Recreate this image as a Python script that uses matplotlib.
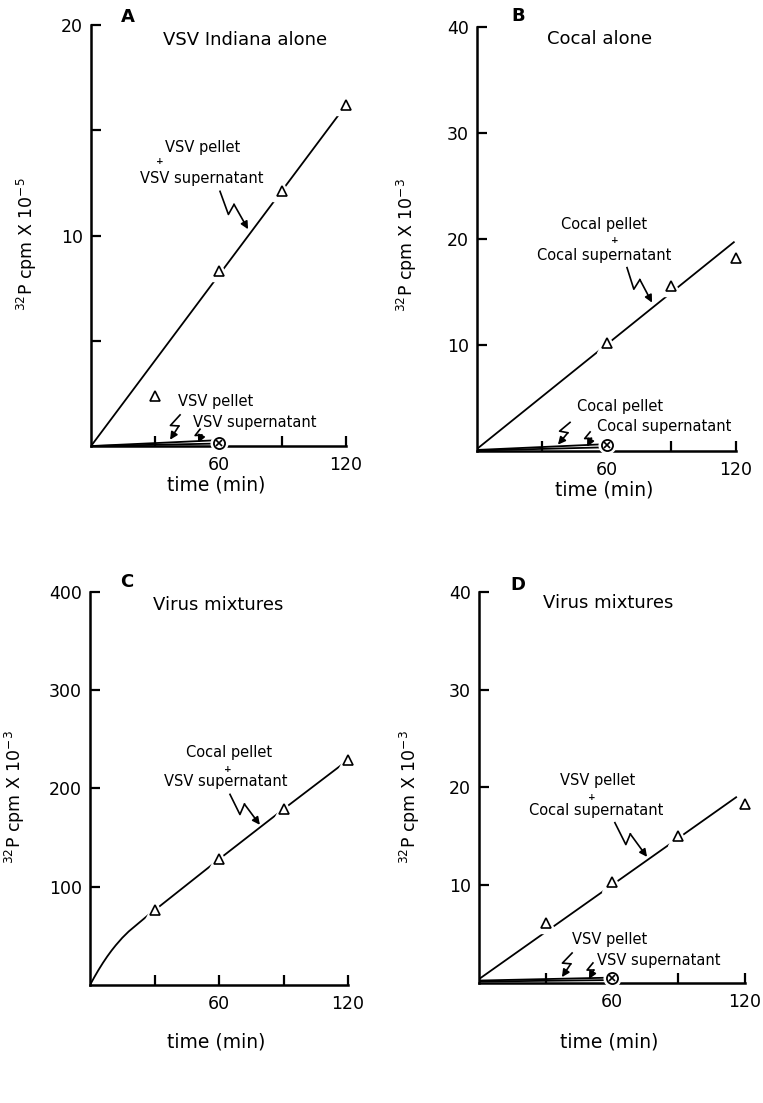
import numpy as np
import matplotlib.pyplot as plt

plt.rcParams["font.family"] = "DejaVu Sans"
plt.rcParams["mathtext.fontset"] = "dejavusans"

# sampling times (min)
t_tri = [30, 60, 90, 120]
t_b = [60, 90, 120]
t_zero = [0, 60]

# A: VSV Indiana alone (cpm x 10^-5)
a_tri = [2.4, 8.3, 12.1, 16.2]
a_fit_t = [0, 120]
a_fit = [0.0, 16.2]
a_pellet = [0.0, 0.28]
a_super = [0.0, 0.12]
a_cross = 0.15

# B: Cocal alone (cpm x 10^-3)
b_tri = [10.2, 15.6, 18.2]
b_fit_t = [0, 119]
b_fit = [0.2, 19.7]
b_pellet = [0.1, 0.65]
b_super = [0.05, 0.35]
b_cross = 0.55

# C: Cocal pellet + VSV supernatant (cpm x 10^-3)
c_tri = [76, 128, 179, 229]
c_curve_t = [0, 2, 4, 6, 8, 10, 12, 15, 18, 21, 24, 27, 30, 60, 90, 120]
c_curve = [0, 8, 15.5, 22.5, 29, 35, 40.5, 48, 54.5, 60, 65.5, 71, 76,
           128, 179, 229]

# D: VSV pellet + Cocal supernatant (cpm x 10^-3)
d_tri = [6.1, 10.3, 15.0, 18.3]
d_fit_t = [0, 116]
d_fit = [0.4, 19.0]
d_pellet = [0.25, 0.55]
d_super = [0.15, 0.3]
d_cross = 0.5

LW = 1.3
TEXT_SIZE = 10.5


def configure_axes(ax, ymax, yticks, ylabels, ylabel, lbl_x, lbl_y, time_y):
    """Bare left/bottom axes with inward ticks"""
    for spine in ["top", "right"]:
        ax.spines[spine].set_visible(False)
    for spine in ["left", "bottom"]:
        ax.spines[spine].set_linewidth(1.8)
    ax.set_xlim(0, 120)
    ax.set_ylim(0, ymax)
    ax.set_xticks([30, 60, 90, 120])
    ax.set_xticklabels(["", "60", "", "120"])
    ax.set_yticks(yticks)
    ax.set_yticklabels(ylabels)
    ax.tick_params(axis="both", direction="in", length=7, width=1.6,
                   labelsize=12.5)
    ax.tick_params(axis="x", pad=7)
    ax.tick_params(axis="y", pad=6)
    ax.text(lbl_x, lbl_y, ylabel, transform=ax.transAxes, rotation=90,
            ha="center", va="center", fontsize=12.5)
    ax.text(0.49, time_y, "time (min)", transform=ax.transAxes,
            ha="center", va="center", fontsize=13.5)


def gapped_points(ax, t, vals):
    """Open triangles that break the line through them"""
    ax.plot(t, vals, linestyle="none", marker="^", ms=14, mfc="white",
            mec="white", zorder=3, clip_on=False)
    ax.plot(t, vals, linestyle="none", marker="^", ms=7.5, mfc="white",
            mec="black", mew=1.2, zorder=4, clip_on=False)


def cross_point(ax, t, val):
    ax.plot([t], [val], linestyle="none", marker="o", ms=12, mfc="white",
            mec="white", zorder=3, clip_on=False)
    ax.plot([t], [val], linestyle="none", marker="o", ms=8, mfc="white",
            mec="black", mew=1.3, zorder=4, clip_on=False)
    ax.plot([t], [val], linestyle="none", marker="x", ms=5, mec="black",
            mew=1.2, zorder=5, clip_on=False)


def squiggle(ax, start, end, k1=7.0, k2=3.5):
    """Lightning-bolt style pointer ending in an arrowhead"""
    tr = ax.transData
    p0 = tr.transform(start)
    p3 = tr.transform(end)
    v = p3 - p0
    n = np.array([-v[1], v[0]]) / np.hypot(*v)
    p1 = p0 + 0.5 * v - k1 * n
    p2 = p0 + 0.4 * v + k2 * n
    pts = tr.inverted().transform(np.array([p0, p1, p2]))
    ax.plot(pts[:, 0], pts[:, 1], color="black", lw=1.2, clip_on=False,
            zorder=5)
    ax.annotate("", xy=end, xytext=tuple(pts[2]),
                arrowprops=dict(arrowstyle="-|>", color="black", lw=1.2,
                                mutation_scale=11, shrinkA=0, shrinkB=0))


def stacked_label(ax, top, bottom, x_top, y_top, plus, x_bot, y_bot):
    ax.text(x_top, y_top, top, ha="center", va="center", fontsize=TEXT_SIZE)
    ax.text(plus[0], plus[1], "+", ha="center", va="center", fontsize=6.5,
            fontweight="bold")
    ax.text(x_bot, y_bot, bottom, ha="center", va="center", fontsize=TEXT_SIZE)


fig = plt.figure(figsize=(7.63, 11.03), dpi=100)
ax_a = fig.add_axes([0.1193, 0.5956, 0.3342, 0.3817])
ax_b = fig.add_axes([0.6252, 0.5911, 0.3394, 0.3844])
ax_c = fig.add_axes([0.1180, 0.1070, 0.3381, 0.3563])
ax_d = fig.add_axes([0.6278, 0.1088, 0.3486, 0.3545])

# ---- A ----
configure_axes(ax_a, 20, [5, 10, 15, 20], ["", "10", "", "20"],
               r"$^{32}$P cpm X 10$^{-5}$", -0.25, 0.48, -0.093)
ax_a.plot(a_fit_t, a_fit, color="black", lw=LW, zorder=2)
gapped_points(ax_a, t_tri, a_tri)
ax_a.plot(t_zero, a_pellet, color="black", lw=LW, zorder=2)
ax_a.plot(t_zero, a_super, color="black", lw=LW, zorder=2)
cross_point(ax_a, 60, a_cross)
ax_a.text(17.4, 20.4, "A", ha="center", va="center", fontsize=13,
          fontweight="bold")
ax_a.text(33.9, 19.3, "VSV Indiana alone", ha="left", va="center",
          fontsize=13)
stacked_label(ax_a, "VSV pellet", "VSV supernatant", 52.7, 14.2,
              (32.5, 13.5), 52.2, 12.7)
squiggle(ax_a, (60.7, 12.1), (73.9, 10.3))
ax_a.text(40.9, 2.1, "VSV pellet", ha="left", va="center", fontsize=TEXT_SIZE)
ax_a.text(48.0, 1.1, "VSV supernatant", ha="left", va="center",
          fontsize=TEXT_SIZE)
squiggle(ax_a, (41.9, 1.48), (37.2, 0.3), k1=5, k2=3)
squiggle(ax_a, (51.3, 0.8), (50.4, 0.15), k1=4, k2=2.5)

# ---- B ----
configure_axes(ax_b, 40, [10, 20, 30, 40], ["10", "20", "30", "40"],
               r"$^{32}$P cpm X 10$^{-3}$", -0.27, 0.486, -0.092)
ax_b.plot(b_fit_t, b_fit, color="black", lw=LW, zorder=2)
gapped_points(ax_b, t_b, b_tri)
ax_b.plot(t_zero, b_pellet, color="black", lw=LW, zorder=2)
ax_b.plot(t_zero, b_super, color="black", lw=LW, zorder=2)
cross_point(ax_b, 60, b_cross)
ax_b.text(19.0, 41.0, "B", ha="center", va="center", fontsize=13,
          fontweight="bold")
ax_b.text(32.4, 38.9, "Cocal alone", ha="left", va="center", fontsize=13)
stacked_label(ax_b, "Cocal pellet", "Cocal supernatant", 58.8, 21.4,
              (64.0, 19.9), 58.8, 18.4)
squiggle(ax_b, (69.5, 17.3), (81.1, 14.0))
ax_b.text(46.3, 4.2, "Cocal pellet", ha="left", va="center",
          fontsize=TEXT_SIZE)
ax_b.text(55.6, 2.3, "Cocal supernatant", ha="left", va="center",
          fontsize=TEXT_SIZE)
squiggle(ax_b, (43.1, 2.7), (37.5, 0.6), k1=5, k2=3)
squiggle(ax_b, (52.4, 1.8), (51.0, 0.4), k1=4, k2=2.5)

# ---- C ----
configure_axes(ax_c, 400, [100, 200, 300, 400], ["100", "200", "300", "400"],
               r"$^{32}$P cpm X 10$^{-3}$", -0.29, 0.478, -0.145)
ax_c.plot(c_curve_t, c_curve, color="black", lw=LW, zorder=2)
gapped_points(ax_c, t_tri, c_tri)
ax_c.text(17.2, 410, "C", ha="center", va="center", fontsize=13,
          fontweight="bold")
ax_c.text(29.3, 387, "Virus mixtures", ha="left", va="center", fontsize=13)
stacked_label(ax_c, "Cocal pellet", "VSV supernatant", 64.7, 237,
              (64.2, 219), 63.3, 207)
squiggle(ax_c, (65.1, 194), (79.0, 163))

# ---- D ----
configure_axes(ax_d, 40, [10, 20, 30, 40], ["10", "20", "30", "40"],
               r"$^{32}$P cpm X 10$^{-3}$", -0.26, 0.476, -0.151)
ax_d.plot(d_fit_t, d_fit, color="black", lw=LW, zorder=2)
gapped_points(ax_d, t_tri, d_tri)
ax_d.plot(t_zero, d_pellet, color="black", lw=LW, zorder=2)
ax_d.plot(t_zero, d_super, color="black", lw=LW, zorder=2)
cross_point(ax_d, 60, d_cross)
ax_d.text(17.6, 40.7, "D", ha="center", va="center", fontsize=13,
          fontweight="bold")
ax_d.text(28.9, 38.9, "Virus mixtures", ha="left", va="center", fontsize=13)
stacked_label(ax_d, "VSV pellet", "Cocal supernatant", 53.4, 20.7,
              (51.0, 19.0), 52.8, 17.6)
squiggle(ax_d, (61.3, 16.4), (75.8, 12.9))
ax_d.text(42.0, 4.4, "VSV pellet", ha="left", va="center", fontsize=TEXT_SIZE)
ax_d.text(53.2, 2.35, "VSV supernatant", ha="left", va="center",
          fontsize=TEXT_SIZE)
squiggle(ax_d, (42.0, 3.07), (37.4, 0.6), k1=5, k2=3)
squiggle(ax_d, (51.4, 2.05), (49.6, 0.4), k1=4, k2=2.5)

fig.savefig("out.png", dpi=100)
